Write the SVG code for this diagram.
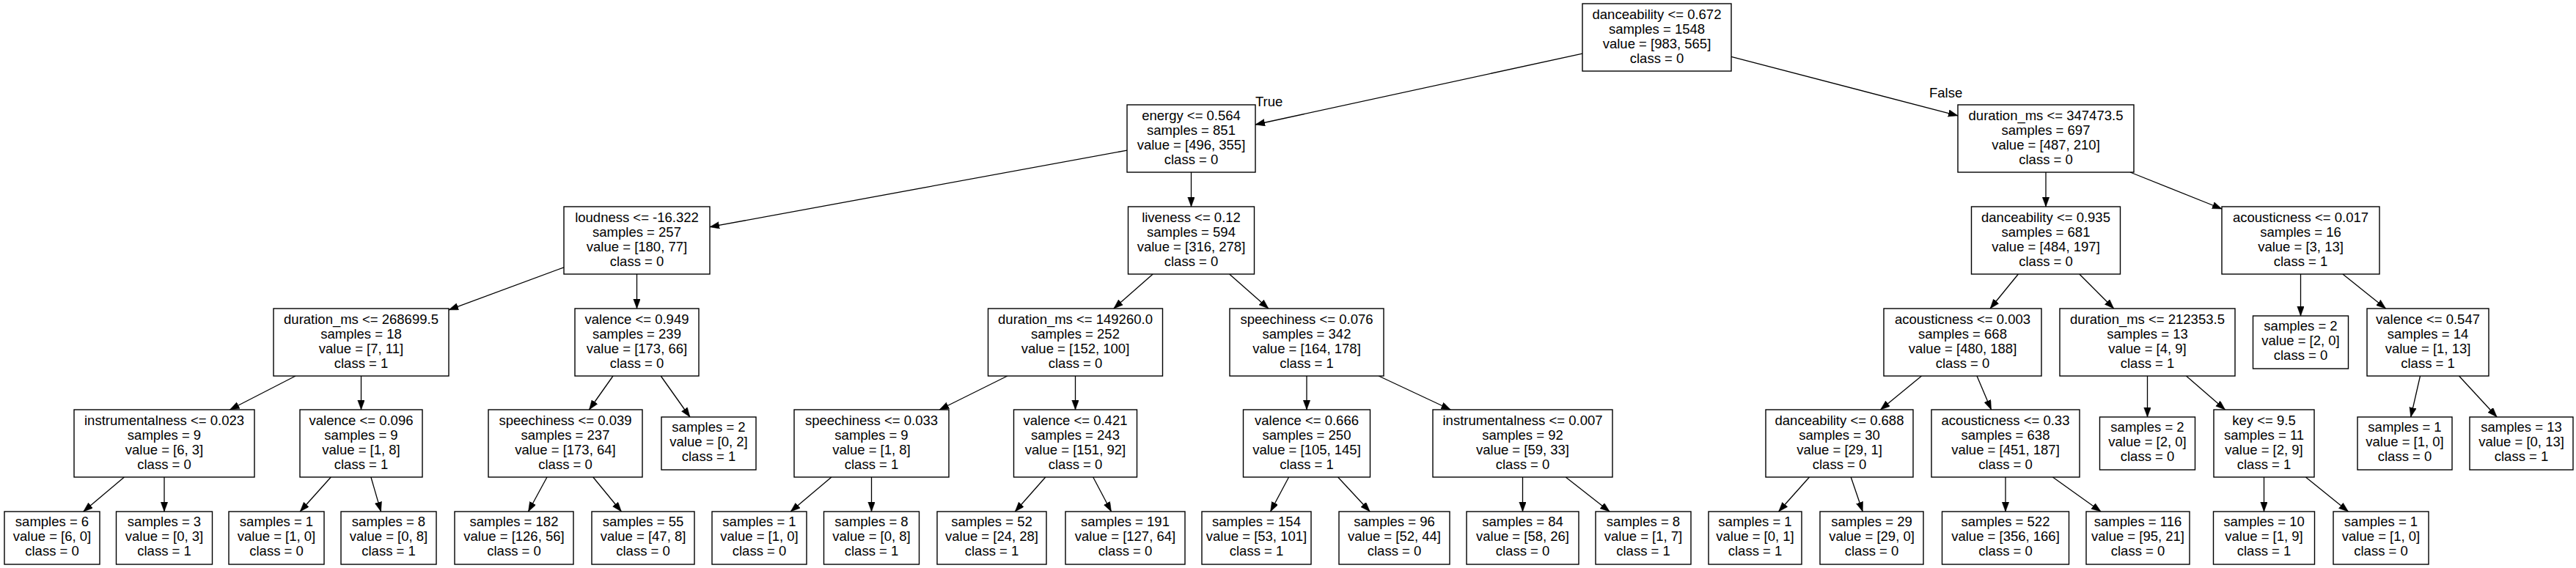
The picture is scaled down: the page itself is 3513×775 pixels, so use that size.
<svg xmlns="http://www.w3.org/2000/svg" width="3513" height="775" viewBox="0 0 3513 775">
<style>
.n rect{fill:#fff;stroke:#000;stroke-width:1.4}
text{font-family:"Liberation Sans",Arial,sans-serif;font-size:18.5px;text-anchor:middle;fill:#000}
.lbl{text-anchor:start}
#edges path{stroke:#000;stroke-width:1.3;fill:none;marker-end:url(#arr)}
</style>
<defs>
<marker id="arr" markerUnits="userSpaceOnUse" markerWidth="14" markerHeight="10" refX="13" refY="4.75" orient="auto">
<path d="M0,0 L13,4.75 L0,9.5 z" fill="#000" stroke="#000" stroke-width="0.5"/>
</marker>
</defs>
<rect width="3513" height="775" fill="#fff"/>
<g id="edges">
<path d="M2158 73.1 L1712 170"/>
<path d="M2361 77.4 L2670 157.8"/>
<path d="M1537 205.1 L968 309.7"/>
<path d="M1624.5 235 L1624.5 282"/>
<path d="M769 364.8 L612 422.8"/>
<path d="M868.5 374 L868.5 421"/>
<path d="M403 513 L313.5 559"/>
<path d="M492.5 513 L492.5 559"/>
<path d="M169.4 651 L113.7 698"/>
<path d="M224 651 L224 698"/>
<path d="M451.3 651 L409.2 698"/>
<path d="M505.9 651 L519.5 698"/>
<path d="M836 513 L803.5 559"/>
<path d="M901.2 513 L940.9 569"/>
<path d="M746 651 L720.5 698"/>
<path d="M808.8 651 L847.4 698"/>
<path d="M1572.2 374 L1518.8 421"/>
<path d="M1676.6 374 L1729.9 421"/>
<path d="M1373.8 513 L1281.2 559"/>
<path d="M1466.5 513 L1466.5 559"/>
<path d="M1133.9 651 L1078.2 698"/>
<path d="M1188.5 651 L1188.5 698"/>
<path d="M1425.8 651 L1384.3 698"/>
<path d="M1490.7 651 L1515.5 698"/>
<path d="M1782 513 L1782 559"/>
<path d="M1880.2 513 L1978.3 559"/>
<path d="M1757.6 651 L1732.6 698"/>
<path d="M1824.6 651 L1868.2 698"/>
<path d="M2076.5 651 L2076.5 698"/>
<path d="M2135.2 651 L2195.1 698"/>
<path d="M2790 235 L2790 282"/>
<path d="M2905 235 L3030 285"/>
<path d="M2752.4 374 L2714.1 421"/>
<path d="M2835.8 374 L2882.7 421"/>
<path d="M2620.5 513 L2564.5 559"/>
<path d="M2696 513 L2715.5 559"/>
<path d="M2467.5 651 L2425.6 698"/>
<path d="M2524.2 651 L2540.2 698"/>
<path d="M2735 651 L2735 698"/>
<path d="M2799.4 651 L2865.1 698"/>
<path d="M2928.5 513 L2928.5 569"/>
<path d="M2981.5 513 L3034.5 559"/>
<path d="M3087.5 651 L3087.5 698"/>
<path d="M3144.4 651 L3202.5 698"/>
<path d="M3137.5 374 L3137.5 431"/>
<path d="M3194.9 374 L3253.6 421"/>
<path d="M3300.5 513 L3287.7 569"/>
<path d="M3353.5 513 L3405.2 569"/>
<text class="lbl" x="1712" y="145">True</text>
<text class="lbl" x="2631" y="133">False</text>
</g>
<g id="node0" class="n"><rect x="2158" y="5" width="203" height="92"/><text x="2259.5" y="26">danceability &lt;= 0.672</text><text x="2259.5" y="46">samples = 1548</text><text x="2259.5" y="66">value = [983, 565]</text><text x="2259.5" y="86">class = 0</text></g>
<g id="node1" class="n"><rect x="1537" y="143" width="175" height="92"/><text x="1624.5" y="164">energy &lt;= 0.564</text><text x="1624.5" y="184">samples = 851</text><text x="1624.5" y="204">value = [496, 355]</text><text x="1624.5" y="224">class = 0</text></g>
<g id="node2" class="n"><rect x="769" y="282" width="199" height="92"/><text x="868.5" y="303">loudness &lt;= -16.322</text><text x="868.5" y="323">samples = 257</text><text x="868.5" y="343">value = [180, 77]</text><text x="868.5" y="363">class = 0</text></g>
<g id="node3" class="n"><rect x="373" y="421" width="239" height="92"/><text x="492.5" y="442">duration_ms &lt;= 268699.5</text><text x="492.5" y="462">samples = 18</text><text x="492.5" y="482">value = [7, 11]</text><text x="492.5" y="502">class = 1</text></g>
<g id="node4" class="n"><rect x="101" y="559" width="246" height="92"/><text x="224" y="580">instrumentalness &lt;= 0.023</text><text x="224" y="600">samples = 9</text><text x="224" y="620">value = [6, 3]</text><text x="224" y="640">class = 0</text></g>
<g id="node5" class="n"><rect x="6" y="698" width="130" height="72"/><text x="71" y="718">samples = 6</text><text x="71" y="738">value = [6, 0]</text><text x="71" y="758">class = 0</text></g>
<g id="node6" class="n"><rect x="158.5" y="698" width="131" height="72"/><text x="224" y="718">samples = 3</text><text x="224" y="738">value = [0, 3]</text><text x="224" y="758">class = 1</text></g>
<g id="node7" class="n"><rect x="409" y="559" width="167" height="92"/><text x="492.5" y="580">valence &lt;= 0.096</text><text x="492.5" y="600">samples = 9</text><text x="492.5" y="620">value = [1, 8]</text><text x="492.5" y="640">class = 1</text></g>
<g id="node8" class="n"><rect x="312" y="698" width="130" height="72"/><text x="377" y="718">samples = 1</text><text x="377" y="738">value = [1, 0]</text><text x="377" y="758">class = 0</text></g>
<g id="node9" class="n"><rect x="465" y="698" width="130" height="72"/><text x="530" y="718">samples = 8</text><text x="530" y="738">value = [0, 8]</text><text x="530" y="758">class = 1</text></g>
<g id="node10" class="n"><rect x="784" y="421" width="169" height="92"/><text x="868.5" y="442">valence &lt;= 0.949</text><text x="868.5" y="462">samples = 239</text><text x="868.5" y="482">value = [173, 66]</text><text x="868.5" y="502">class = 0</text></g>
<g id="node11" class="n"><rect x="666" y="559" width="210" height="92"/><text x="771" y="580">speechiness &lt;= 0.039</text><text x="771" y="600">samples = 237</text><text x="771" y="620">value = [173, 64]</text><text x="771" y="640">class = 0</text></g>
<g id="node12" class="n"><rect x="620" y="698" width="162" height="72"/><text x="701" y="718">samples = 182</text><text x="701" y="738">value = [126, 56]</text><text x="701" y="758">class = 0</text></g>
<g id="node13" class="n"><rect x="807" y="698" width="140" height="72"/><text x="877" y="718">samples = 55</text><text x="877" y="738">value = [47, 8]</text><text x="877" y="758">class = 0</text></g>
<g id="node14" class="n"><rect x="902" y="569" width="129" height="72"/><text x="966.5" y="589">samples = 2</text><text x="966.5" y="609">value = [0, 2]</text><text x="966.5" y="629">class = 1</text></g>
<g id="node15" class="n"><rect x="1538.5" y="282" width="172" height="92"/><text x="1624.5" y="303">liveness &lt;= 0.12</text><text x="1624.5" y="323">samples = 594</text><text x="1624.5" y="343">value = [316, 278]</text><text x="1624.5" y="363">class = 0</text></g>
<g id="node16" class="n"><rect x="1347.5" y="421" width="238" height="92"/><text x="1466.5" y="442">duration_ms &lt;= 149260.0</text><text x="1466.5" y="462">samples = 252</text><text x="1466.5" y="482">value = [152, 100]</text><text x="1466.5" y="502">class = 0</text></g>
<g id="node17" class="n"><rect x="1083" y="559" width="211" height="92"/><text x="1188.5" y="580">speechiness &lt;= 0.033</text><text x="1188.5" y="600">samples = 9</text><text x="1188.5" y="620">value = [1, 8]</text><text x="1188.5" y="640">class = 1</text></g>
<g id="node18" class="n"><rect x="971" y="698" width="129" height="72"/><text x="1035.5" y="718">samples = 1</text><text x="1035.5" y="738">value = [1, 0]</text><text x="1035.5" y="758">class = 0</text></g>
<g id="node19" class="n"><rect x="1123.5" y="698" width="130" height="72"/><text x="1188.5" y="718">samples = 8</text><text x="1188.5" y="738">value = [0, 8]</text><text x="1188.5" y="758">class = 1</text></g>
<g id="node20" class="n"><rect x="1382.5" y="559" width="168" height="92"/><text x="1466.5" y="580">valence &lt;= 0.421</text><text x="1466.5" y="600">samples = 243</text><text x="1466.5" y="620">value = [151, 92]</text><text x="1466.5" y="640">class = 0</text></g>
<g id="node21" class="n"><rect x="1278" y="698" width="149" height="72"/><text x="1352.5" y="718">samples = 52</text><text x="1352.5" y="738">value = [24, 28]</text><text x="1352.5" y="758">class = 1</text></g>
<g id="node22" class="n"><rect x="1453" y="698" width="163" height="72"/><text x="1534.5" y="718">samples = 191</text><text x="1534.5" y="738">value = [127, 64]</text><text x="1534.5" y="758">class = 0</text></g>
<g id="node23" class="n"><rect x="1677" y="421" width="210" height="92"/><text x="1782" y="442">speechiness &lt;= 0.076</text><text x="1782" y="462">samples = 342</text><text x="1782" y="482">value = [164, 178]</text><text x="1782" y="502">class = 1</text></g>
<g id="node24" class="n"><rect x="1695.5" y="559" width="173" height="92"/><text x="1782" y="580">valence &lt;= 0.666</text><text x="1782" y="600">samples = 250</text><text x="1782" y="620">value = [105, 145]</text><text x="1782" y="640">class = 1</text></g>
<g id="node25" class="n"><rect x="1639" y="698" width="149" height="72"/><text x="1713.5" y="718">samples = 154</text><text x="1713.5" y="738">value = [53, 101]</text><text x="1713.5" y="758">class = 1</text></g>
<g id="node26" class="n"><rect x="1826" y="698" width="151" height="72"/><text x="1901.5" y="718">samples = 96</text><text x="1901.5" y="738">value = [52, 44]</text><text x="1901.5" y="758">class = 0</text></g>
<g id="node27" class="n"><rect x="1954" y="559" width="245" height="92"/><text x="2076.5" y="580">instrumentalness &lt;= 0.007</text><text x="2076.5" y="600">samples = 92</text><text x="2076.5" y="620">value = [59, 33]</text><text x="2076.5" y="640">class = 0</text></g>
<g id="node28" class="n"><rect x="2000" y="698" width="153" height="72"/><text x="2076.5" y="718">samples = 84</text><text x="2076.5" y="738">value = [58, 26]</text><text x="2076.5" y="758">class = 0</text></g>
<g id="node29" class="n"><rect x="2176" y="698" width="130" height="72"/><text x="2241" y="718">samples = 8</text><text x="2241" y="738">value = [1, 7]</text><text x="2241" y="758">class = 1</text></g>
<g id="node30" class="n"><rect x="2670" y="143" width="240" height="92"/><text x="2790" y="164">duration_ms &lt;= 347473.5</text><text x="2790" y="184">samples = 697</text><text x="2790" y="204">value = [487, 210]</text><text x="2790" y="224">class = 0</text></g>
<g id="node31" class="n"><rect x="2688.5" y="282" width="203" height="92"/><text x="2790" y="303">danceability &lt;= 0.935</text><text x="2790" y="323">samples = 681</text><text x="2790" y="343">value = [484, 197]</text><text x="2790" y="363">class = 0</text></g>
<g id="node32" class="n"><rect x="2569" y="421" width="215" height="92"/><text x="2676.5" y="442">acousticness &lt;= 0.003</text><text x="2676.5" y="462">samples = 668</text><text x="2676.5" y="482">value = [480, 188]</text><text x="2676.5" y="502">class = 0</text></g>
<g id="node33" class="n"><rect x="2408" y="559" width="201" height="92"/><text x="2508.5" y="580">danceability &lt;= 0.688</text><text x="2508.5" y="600">samples = 30</text><text x="2508.5" y="620">value = [29, 1]</text><text x="2508.5" y="640">class = 0</text></g>
<g id="node34" class="n"><rect x="2330" y="698" width="127" height="72"/><text x="2393.5" y="718">samples = 1</text><text x="2393.5" y="738">value = [0, 1]</text><text x="2393.5" y="758">class = 1</text></g>
<g id="node35" class="n"><rect x="2482" y="698" width="141" height="72"/><text x="2552.5" y="718">samples = 29</text><text x="2552.5" y="738">value = [29, 0]</text><text x="2552.5" y="758">class = 0</text></g>
<g id="node36" class="n"><rect x="2634" y="559" width="202" height="92"/><text x="2735" y="580">acousticness &lt;= 0.33</text><text x="2735" y="600">samples = 638</text><text x="2735" y="620">value = [451, 187]</text><text x="2735" y="640">class = 0</text></g>
<g id="node37" class="n"><rect x="2648.5" y="698" width="173" height="72"/><text x="2735" y="718">samples = 522</text><text x="2735" y="738">value = [356, 166]</text><text x="2735" y="758">class = 0</text></g>
<g id="node38" class="n"><rect x="2845" y="698" width="141" height="72"/><text x="2915.5" y="718">samples = 116</text><text x="2915.5" y="738">value = [95, 21]</text><text x="2915.5" y="758">class = 0</text></g>
<g id="node39" class="n"><rect x="2809" y="421" width="239" height="92"/><text x="2928.5" y="442">duration_ms &lt;= 212353.5</text><text x="2928.5" y="462">samples = 13</text><text x="2928.5" y="482">value = [4, 9]</text><text x="2928.5" y="502">class = 1</text></g>
<g id="node40" class="n"><rect x="2863.5" y="569" width="130" height="72"/><text x="2928.5" y="589">samples = 2</text><text x="2928.5" y="609">value = [2, 0]</text><text x="2928.5" y="629">class = 0</text></g>
<g id="node41" class="n"><rect x="3019" y="559" width="137" height="92"/><text x="3087.5" y="580">key &lt;= 9.5</text><text x="3087.5" y="600">samples = 11</text><text x="3087.5" y="620">value = [2, 9]</text><text x="3087.5" y="640">class = 1</text></g>
<g id="node42" class="n"><rect x="3018.5" y="698" width="138" height="72"/><text x="3087.5" y="718">samples = 10</text><text x="3087.5" y="738">value = [1, 9]</text><text x="3087.5" y="758">class = 1</text></g>
<g id="node43" class="n"><rect x="3182" y="698" width="130" height="72"/><text x="3247" y="718">samples = 1</text><text x="3247" y="738">value = [1, 0]</text><text x="3247" y="758">class = 0</text></g>
<g id="node44" class="n"><rect x="3030" y="282" width="215" height="92"/><text x="3137.5" y="303">acousticness &lt;= 0.017</text><text x="3137.5" y="323">samples = 16</text><text x="3137.5" y="343">value = [3, 13]</text><text x="3137.5" y="363">class = 1</text></g>
<g id="node45" class="n"><rect x="3072.5" y="431" width="130" height="72"/><text x="3137.5" y="451">samples = 2</text><text x="3137.5" y="471">value = [2, 0]</text><text x="3137.5" y="491">class = 0</text></g>
<g id="node46" class="n"><rect x="3228" y="421" width="166" height="92"/><text x="3311" y="442">valence &lt;= 0.547</text><text x="3311" y="462">samples = 14</text><text x="3311" y="482">value = [1, 13]</text><text x="3311" y="502">class = 1</text></g>
<g id="node47" class="n"><rect x="3215" y="569" width="129" height="72"/><text x="3279.5" y="589">samples = 1</text><text x="3279.5" y="609">value = [1, 0]</text><text x="3279.5" y="629">class = 0</text></g>
<g id="node48" class="n"><rect x="3368" y="569" width="141" height="72"/><text x="3438.5" y="589">samples = 13</text><text x="3438.5" y="609">value = [0, 13]</text><text x="3438.5" y="629">class = 1</text></g>
</svg>
